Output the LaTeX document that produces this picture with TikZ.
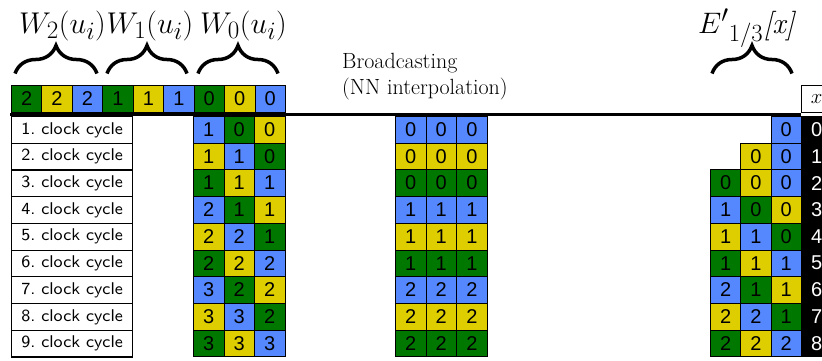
\documentclass[tikz,border=0pt]{standalone}
\usepackage{fontspec}
\usetikzlibrary{decorations.pathreplacing}
\newfontfamily\digitfont{Liberation Sans}
\newfontfamily\cycfont{lmsans8-regular.otf}
\definecolor{cb}{RGB}{85,136,255}
\definecolor{cy}{RGB}{222,206,0}
\definecolor{cg}{RGB}{0,120,0}
\begin{document}
\begin{tikzpicture}[x=1pt,y=-1pt,
  cell/.style={draw=black,line width=0.7pt,minimum width=30.5pt,minimum height=26.7pt,
    inner sep=0pt,anchor=north west,font=\digitfont\fontsize{20}{20}\selectfont},
  cyclebox/.style={draw=black,line width=1.2pt,fill=white,minimum width=121pt,
    minimum height=26.7pt,inner sep=0pt,anchor=north west,
    font=\cycfont\fontsize{17}{19}\selectfont},
  bigbrace/.style={decorate,decoration={brace,amplitude=28pt},line width=3.5pt},
  toplabel/.style={anchor=base,inner sep=0pt,scale=1.206,font=\fontsize{24.88}{26}\selectfont},
  serifnote/.style={anchor=base west,inner sep=0pt,font=\fontsize{22}{24}\selectfont}]
\clip (0,0) rectangle (822,360);
\fill[white] (0,0) rectangle (822,360);

% packed input word: three groups of three values
\foreach \c/\v [count=\i from 0] in {cg/2,cy/2,cb/2,cg/1,cy/1,cb/1,cg/0,cy/0,cb/0}
  \node[cell,fill=\c,minimum height=27pt] (top\i) at (11+30.45*\i,85) {\v};

% header cell of the index column
\node[cell,fill=white,minimum height=27pt,font=\fontsize{20.74}{22}\selectfont] (xbox) at (801,85) {$x$};

% separator rule
\coordinate (ruleL) at (10,114);
\coordinate (ruleR) at (801,114);
\draw[line width=3pt] (ruleL) -- (ruleR);

% clock cycle labels
\foreach \k in {1,...,9}
  \node[cyclebox] (cyc\k) at (11,116+26.7*\k-26.7) {\k.\ clock cycle};

% shifted weights per clock cycle
\foreach \row [count=\r from 0] in {
  {cb/1,cg/0,cy/0},{cy/1,cb/1,cg/0},{cg/1,cy/1,cb/1},
  {cb/2,cg/1,cy/1},{cy/2,cb/2,cg/1},{cg/2,cy/2,cb/2},
  {cb/3,cg/2,cy/2},{cy/3,cb/3,cg/2},{cg/3,cy/3,cb/3}}
  \foreach \c/\v [count=\j from 0] in \row
    \node[cell,fill=\c] (w\r-\j) at (193+30.6*\j,116+26.7*\r) {\v};

% broadcast values
\foreach \c/\v [count=\r from 0] in {cb/0,cy/0,cg/0,cb/1,cy/1,cg/1,cb/2,cy/2,cg/2}
  \foreach \j in {0,1,2}
    \node[cell,fill=\c] (b\r-\j) at (395+30.7*\j,116+26.7*\r) {\v};

% interpolated table E'
\foreach \row [count=\r from 0] in {
  {2/cb/0},{1/cy/0,2/cb/0},{0/cg/0,1/cy/0,2/cb/0},
  {0/cb/1,1/cg/0,2/cy/0},{0/cy/1,1/cb/1,2/cg/0},{0/cg/1,1/cy/1,2/cb/1},
  {0/cb/2,1/cg/1,2/cy/1},{0/cy/2,1/cb/2,2/cg/1},{0/cg/2,1/cy/2,2/cb/2}}
  \foreach \j/\c/\v in \row
    \node[cell,fill=\c] (e\r-\j) at (710+30.3*\j,116+26.7*\r) {\v};

% index column
\foreach \r in {0,...,8}
  \node[cell,fill=black,text=white] (ix\r) at (801,116+26.7*\r) {\r};

% braces and their labels
\draw[bigbrace] (15,73.5) -- (97,73.5);
\draw[bigbrace] (107,73.5) -- (187,73.5);
\draw[bigbrace] (198,73.5) -- (278,73.5);
\draw[bigbrace] (712,73.5) -- (792,73.5);
\node[toplabel] (lw2) at (62.5,33) {$W_2(u_i)$};
\node[toplabel] (lw1) at (150,33) {$W_1(u_i)$};
\node[toplabel] (lw0) at (243.5,33) {$W_0(u_i)$};
\node[anchor=base west,inner sep=0pt,scale=1.19,font=\fontsize{24.88}{26}\selectfont] (le) at (698,33)
  {$E'{}_{1/3}$\textit{[x]}};

% broadcasting note
\node[serifnote] (bc1) at (342,68) {Broadcasting};
\node[serifnote] (bc2) at (342,94) {(NN interpolation)};
\end{tikzpicture}
\end{document}
